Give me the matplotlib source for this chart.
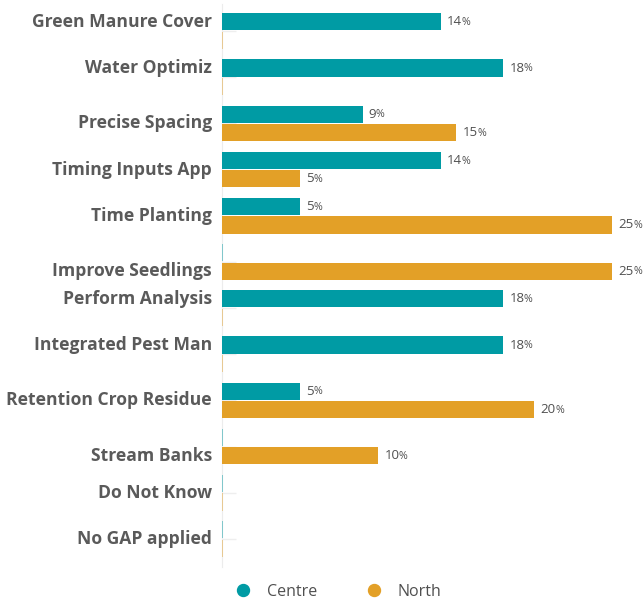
import matplotlib.pyplot as plt
from matplotlib.lines import Line2D
import numpy as np

# data
categories = ["Green Manure Cover", "Water Optimiz", "Precise Spacing",
              "Timing Inputs App", "Time Planting", "Improve Seedlings",
              "Perform Analysis", "Integrated Pest Man", "Retention Crop Residue",
              "Stream Banks", "Do Not Know", "No GAP applied"]
centre = [14, 18, 9, 14, 5, 0, 18, 18, 5, 0, 0, 0]
north = [0, 0, 15, 5, 25, 25, 0, 0, 20, 10, 0, 0]
series_names = ["Centre", "North"]

TEAL = "#009ba4"
ORANGE = "#e3a027"
LABEL_GREY = "#5a5a5a"
VALUE_GREY = "#505050"

plt.rcParams['font.family'] = ['Open Sans', 'DejaVu Sans']

fig = plt.figure(figsize=(6.44, 6.0), dpi=100)
ax = fig.add_axes([0.3447, 0.0633, 0.6087, 0.9234])
ax.set_axisbelow(True)

y = np.arange(len(categories))
off = 0.2
h = 0.37

for vals, shift, col in [(centre, -off, TEAL), (north, off, ORANGE)]:
    for yi, v in zip(y, vals):
        if v > 0:
            ax.barh(yi + shift, v, height=h, color=col, zorder=3)
        else:
            # zero values show as a faint sliver on the axis
            ax.barh(yi + shift, 0.08, height=h, color=col, alpha=0.45, zorder=3)

ax.set_xlim(0, 25.1)
ax.set_ylim(len(categories) - 0.5, -0.5)

ax.set_yticks(y)
ax.set_yticklabels([])
ax.set_xticks([])
ax.tick_params(axis='y', direction='in', length=10, color="#eeeeee", width=1)
for s in ['top', 'right', 'bottom']:
    ax.spines[s].set_visible(False)
ax.spines['left'].set_color("#ececec")
ax.spines['left'].set_bounds(len(categories) - 0.4, -0.58)

# category labels: centred on the non-zero bars of each group
for yi, c, n, name in zip(y, centre, north, categories):
    pos = []
    if c > 0:
        pos.append(yi - off)
    if n > 0:
        pos.append(yi + off)
    ly = np.mean(pos) if pos else yi
    ax.text(-0.65, ly, name, ha='right', va='center', fontsize=12.6,
            fontweight='bold', color=LABEL_GREY, clip_on=False)

# value labels, with a smaller percent sign
fig.canvas.draw()
renderer = fig.canvas.get_renderer()
for vals, shift in [(centre, -off), (north, off)]:
    for yi, v in zip(y, vals):
        if v <= 0:
            continue
        t = ax.annotate(f"{v}", xy=(v, yi + shift), xytext=(4.5, 0),
                        textcoords='offset points', ha='left', va='center',
                        fontsize=9.5, color=VALUE_GREY, annotation_clip=False)
        bb = t.get_window_extent(renderer)
        w_pt = bb.width * 72 / fig.dpi
        ax.annotate("%", xy=(v, yi + shift), xytext=(4.5 + w_pt - 0.4, -0.5),
                    textcoords='offset points', ha='left', va='center',
                    fontsize=7.7, color=VALUE_GREY, annotation_clip=False)

handles = [Line2D([0], [0], marker='o', linestyle='', markersize=8.6,
                  markerfacecolor=col, markeredgecolor=col)
           for col in (TEAL, ORANGE)]
fig.legend(handles, series_names, loc='center', bbox_to_anchor=(0.519, 0.0135),
           ncol=2, frameon=False, fontsize=11.5, labelcolor=VALUE_GREY,
           columnspacing=2.55, handletextpad=0.5, borderpad=0.0,
           borderaxespad=0.0)

fig.savefig("out.png", dpi=100)
